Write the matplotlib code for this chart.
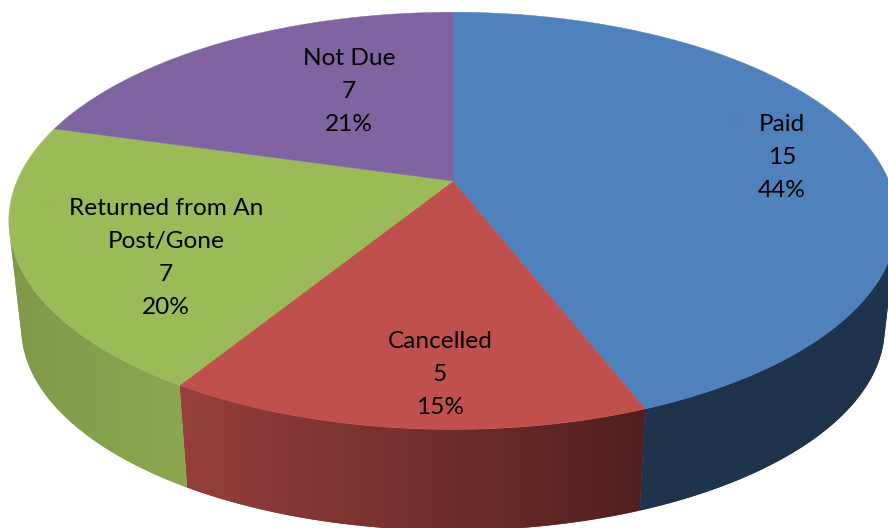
import numpy as np
from matplotlib import pyplot as plt
from matplotlib.colors import to_rgb
from matplotlib.patches import Polygon, Rectangle

# slice data, clockwise from 12 o'clock
names = ['Paid', 'Cancelled', 'Returned from An\nPost/Gone', 'Not Due']
counts = [15, 5, 7, 7]
percents = [44, 15, 20, 21]
# shares, the printed percents are rounded
shares = [44.1, 14.7, 20.6, 20.6]

top_colors = ['#4F81BD', '#C0504D', '#9BBB59', '#8064A2']
wall_left = ['#1F334C', '#963F3D', '#80994A', '#5F4A79']
wall_right = ['#1F334C', '#50201E', '#8BA850', '#5F4A79']
# x centre and baseline of the first line of each label
label_pos = [(782, 131), (440, 348), (166, 215), (349, 65)]
line_pitch = 33
key_boxes = [(730, 114, '#4D80BC'), (41, 198, '#9ABA58')]

# perspective of the pie, in pixels
center_x = 453
top_y = 181
bottom_y = 289
radius_x = 436
radius_y = 201
tilt = 0.191
bottom_scale = 0.972


def project(t, cy, scale=1.0):
    # t is clockwise angle from the far side of the disc
    w = 1 + tilt * np.cos(t)
    x = center_x + scale * radius_x * np.sin(t) / w
    y = cy - scale * radius_y * np.cos(t) / w
    return x, y


fig = plt.figure(figsize=(8.88, 5.28), dpi=100)
ax = fig.add_axes([0, 0, 1, 1])

fractions = np.array(shares) / np.sum(shares)
edges = np.concatenate([[0], np.cumsum(fractions)]) * 2 * np.pi

# side wall, a horizontal gradient clipped to each slice
for i in range(len(shares)):
    angles = np.linspace(edges[i], edges[i + 1], 400)
    tx, ty = project(angles, top_y)
    bx, by = project(angles, bottom_y, bottom_scale)
    # keep only the part of the wall that faces the viewer
    cross = np.diff(tx) * (by - ty)[:-1] - np.diff(ty) * (bx - tx)[:-1]
    facing = np.where(cross < 0)[0]
    if len(facing) == 0:
        continue
    keep = np.arange(facing[0], facing[-1] + 2)
    tx, ty, bx, by = tx[keep], ty[keep], bx[keep], by[keep]

    pts = list(zip(tx, ty)) + list(zip(bx[::-1], by[::-1]))
    c0 = np.array(to_rgb(wall_left[i]))
    c1 = np.array(to_rgb(wall_right[i]))
    shape = Polygon(pts, closed=True, facecolor=0.5 * (c0 + c1), edgecolor='none', zorder=0)
    ax.add_patch(shape)
    grad = np.linspace(0, 1, 256)[None, :, None]
    rgb = c0[None, None, :] + (c1 - c0)[None, None, :] * grad
    x0, x1 = min(tx.min(), bx.min()), max(tx.max(), bx.max())
    im = ax.imshow(rgb, extent=(x0, x1, by.max(), min(ty.min(), by.min())),
                   aspect='auto', interpolation='bilinear', zorder=0.5)
    im.set_clip_path(shape)

# top of the disc
for i in range(len(shares)):
    angles = np.linspace(edges[i], edges[i + 1], 200)
    x, y = project(angles, top_y)
    pts = [(center_x, top_y)] + list(zip(x, y))
    ax.add_patch(Polygon(pts, closed=True, facecolor=top_colors[i], edgecolor=top_colors[i], linewidth=0.3))

# faint legend keys next to the labels
for kx, ky, kc in key_boxes:
    ax.add_patch(Rectangle((kx, ky), 15, 15, facecolor=kc, edgecolor='none'))

for i in range(len(shares)):
    lines = names[i].split('\n') + [str(counts[i]), f'{percents[i]}%']
    for k, line in enumerate(lines):
        ax.text(label_pos[i][0], label_pos[i][1] + k * line_pitch, line, ha='center', va='baseline',
                family='Lato', fontsize=17.6, color='black')

ax.set_xlim(0, 888)
ax.set_ylim(528, 0)
ax.axis('off')

fig.savefig('out.png', dpi=100)
